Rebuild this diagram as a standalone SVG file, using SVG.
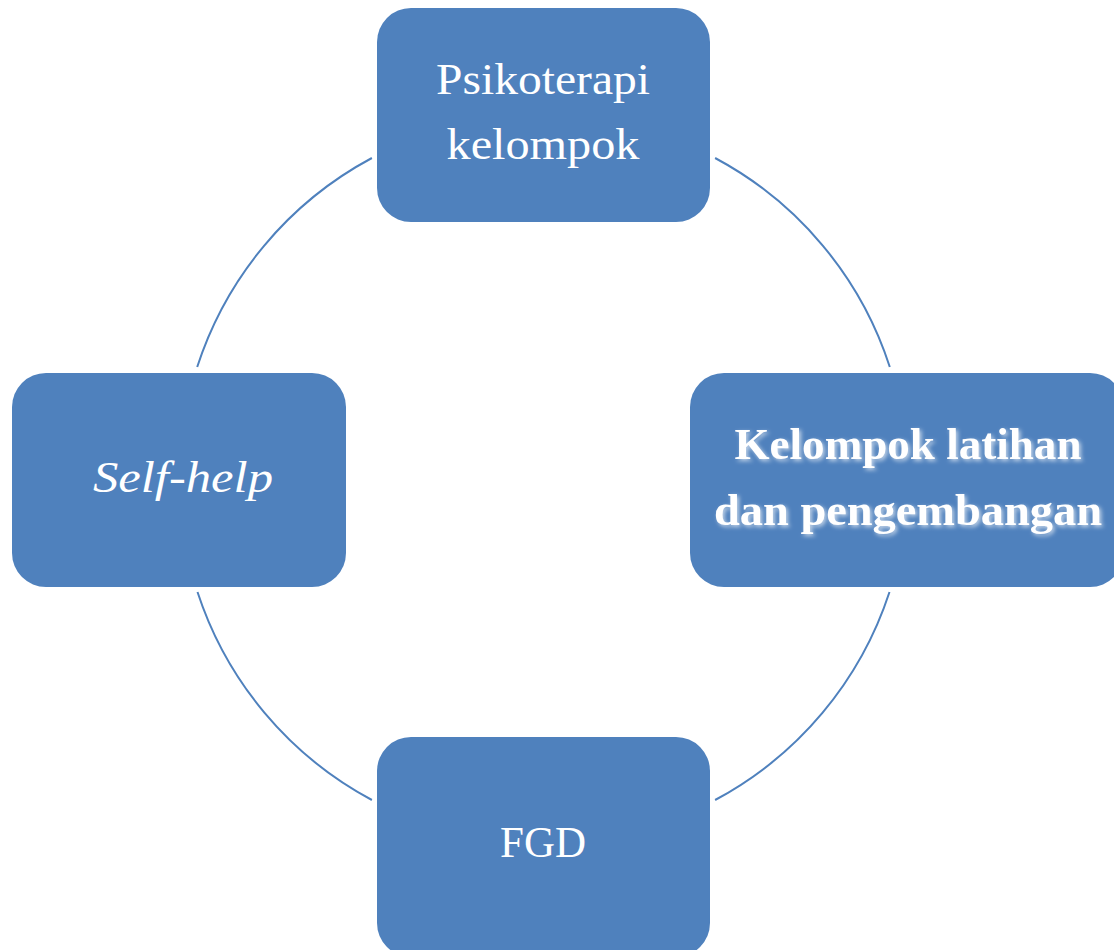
<svg xmlns="http://www.w3.org/2000/svg" width="1114" height="950" viewBox="0 0 1114 950">
<defs>
<style>
.box{fill:#4F81BD;}
.arc{fill:none;stroke:#4F81BD;stroke-width:2;}
.lbl{font-family:"Liberation Serif","DejaVu Serif",serif;fill:#FFFFFF;text-anchor:middle;font-size:44px;}
</style>
<filter id="shadow" x="-10%" y="-30%" width="120%" height="160%">
<feDropShadow dx="2" dy="2" stdDeviation="2" flood-color="#E8EEF6" flood-opacity="0.75"/>
</filter>
</defs>
<rect width="1114" height="950" fill="#FFFFFF"/>
<g id="connectors">
<path class="arc" d="M 371.9 158 A 364 364 0 0 0 197.2 367"/>
<path class="arc" d="M 715.1 158 A 364 364 0 0 1 889.8 367"/>
<path class="arc" d="M 889.5 592 A 364 364 0 0 1 715.1 800"/>
<path class="arc" d="M 197.5 592 A 364 364 0 0 0 371.9 800"/>
</g>
<g id="node-psikoterapi">
<rect class="box" x="377" y="8" width="333" height="214" rx="34" ry="34"/>
<text class="lbl" x="543" y="94" textLength="214" lengthAdjust="spacingAndGlyphs">Psikoterapi</text>
<text class="lbl" x="543" y="159" textLength="193" lengthAdjust="spacingAndGlyphs">kelompok</text>
</g>
<g id="node-kelompok-latihan">
<rect class="box" x="690" y="373" width="434" height="214" rx="34" ry="34"/>
<g filter="url(#shadow)">
<text class="lbl" x="908" y="459" font-weight="bold" textLength="347" lengthAdjust="spacingAndGlyphs">Kelompok latihan</text>
<text class="lbl" x="908" y="525" font-weight="bold" textLength="388" lengthAdjust="spacingAndGlyphs">dan pengembangan</text>
</g>
</g>
<g id="node-self-help">
<rect class="box" x="12" y="373" width="334" height="214" rx="34" ry="34"/>
<text class="lbl" x="183" y="492" font-style="italic" font-size="46" textLength="180" lengthAdjust="spacingAndGlyphs">Self-help</text>
</g>
<g id="node-fgd">
<rect class="box" x="377" y="737" width="333" height="220" rx="34" ry="34"/>
<text class="lbl" x="543" y="857" textLength="86" lengthAdjust="spacingAndGlyphs">FGD</text>
</g>
</svg>
